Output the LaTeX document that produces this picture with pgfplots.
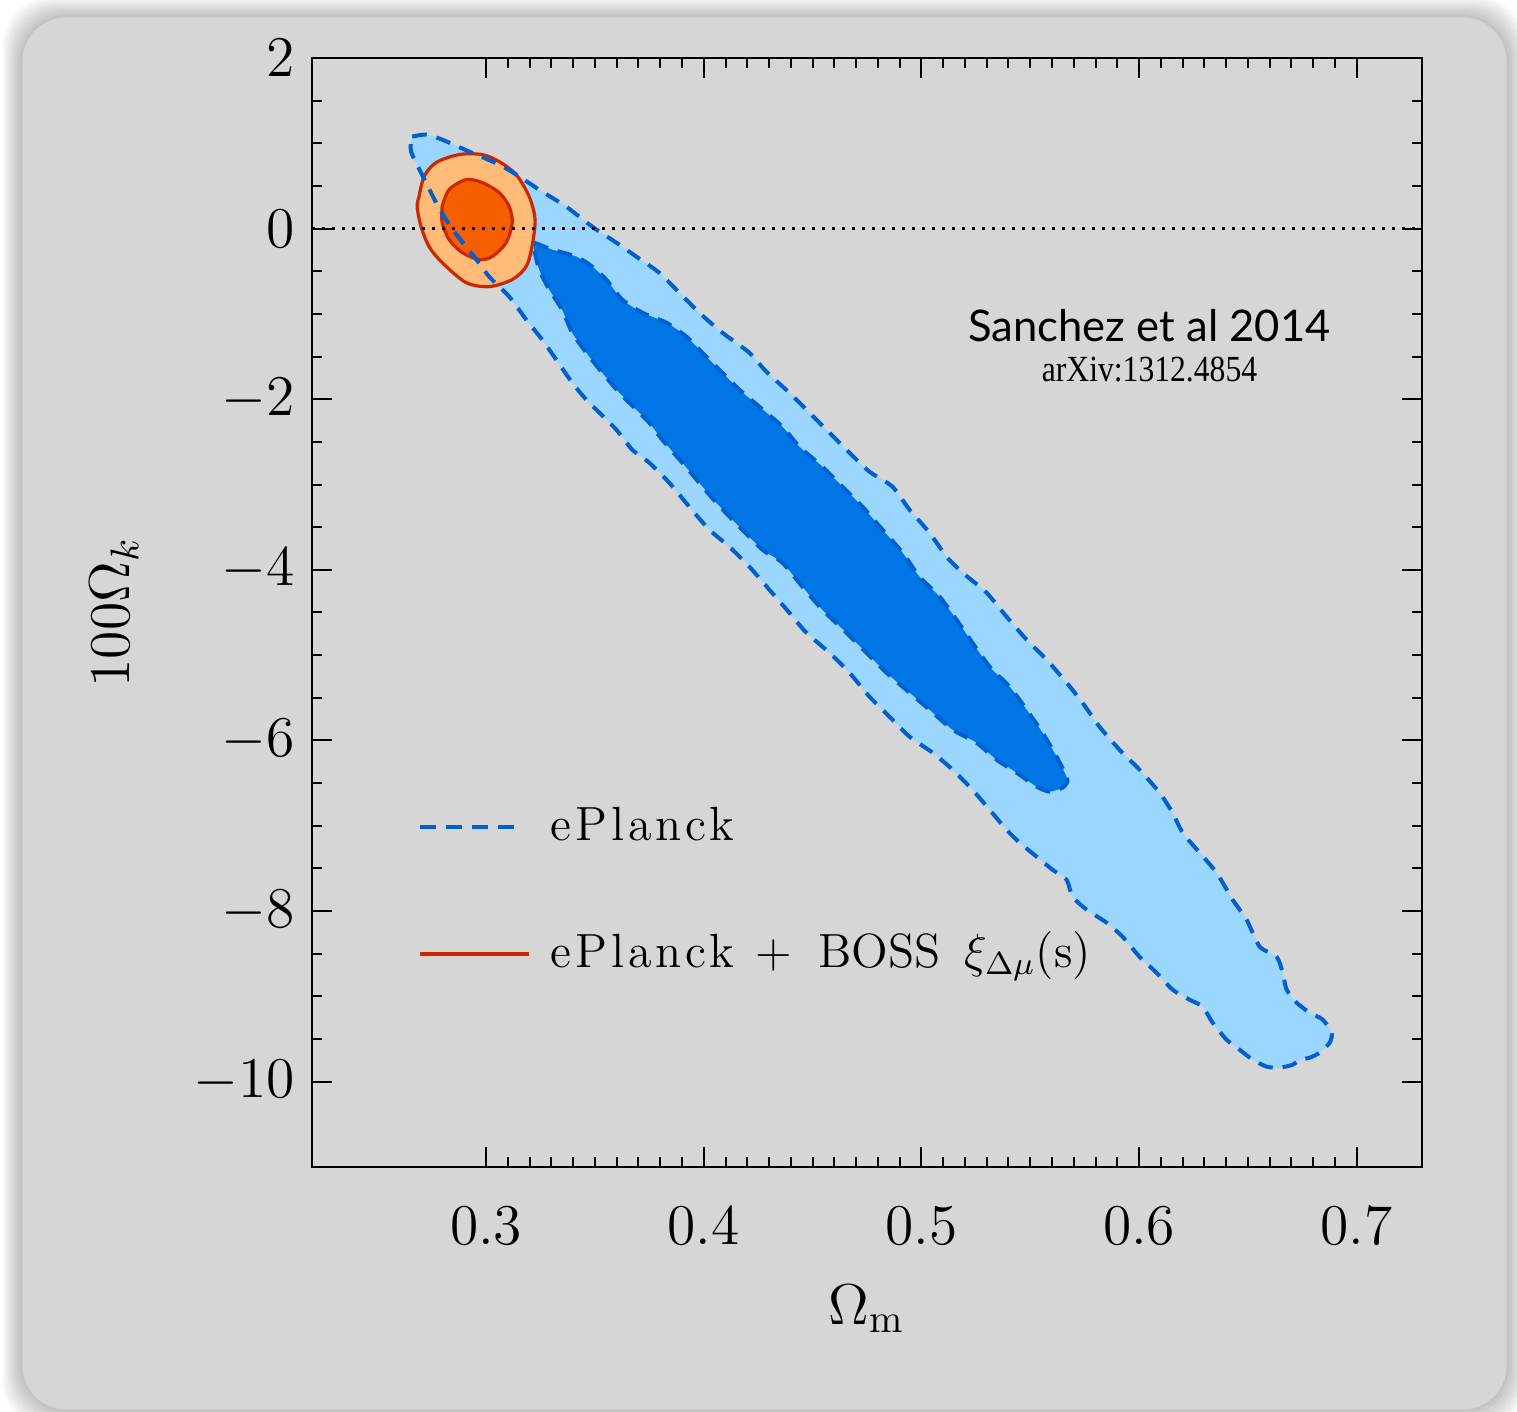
\documentclass[border=0pt]{standalone}
\usepackage{fontspec}
\usepackage{pgfplots}
\usepackage{pgfplotstable}
\pgfplotsset{compat=1.18}
\newfontfamily\lato{Lato}
\newfontfamily\arxivfont[FakeStretch=0.86]{Liberation Serif}
\newfontfamily\legfont[LetterSpace=8]{Latin Modern Roman}
\definecolor{bggray}{HTML}{D6D6D6}
\definecolor{lblue}{HTML}{9AD6FD}
\definecolor{dblue}{HTML}{0075E6}
\definecolor{dashblue}{HTML}{0060D0}
\definecolor{lorange}{HTML}{FFBB77}
\definecolor{dorange}{HTML}{F75E00}
\definecolor{redline}{HTML}{CC2800}

\pgfplotstableread{
x y
0.2660 1.079
0.2724 1.102
0.2798 1.043
0.2922 0.903
0.3060 0.750
0.3152 0.610
0.3257 0.434
0.3368 0.258
0.3487 0.023
0.3598 -0.164
0.3690 -0.328
0.3795 -0.516
0.3887 -0.750
0.3979 -0.985
0.4085 -1.219
0.4209 -1.454
0.4287 -1.676
0.4393 -1.923
0.4485 -2.157
0.4577 -2.391
0.4669 -2.626
0.4761 -2.849
0.4867 -3.025
0.4945 -3.294
0.5037 -3.564
0.5115 -3.845
0.5189 -4.033
0.5299 -4.267
0.5391 -4.549
0.5483 -4.818
0.5575 -5.053
0.5667 -5.322
0.5740 -5.557
0.5818 -5.838
0.5910 -6.108
0.6002 -6.342
0.6094 -6.612
0.6154 -6.846
0.6200 -7.081
0.6278 -7.315
0.6356 -7.550
0.6430 -7.866
0.6494 -8.101
0.6554 -8.417
0.6632 -8.535
0.6660 -8.722
0.6678 -8.921
0.6724 -9.074
0.6784 -9.191
0.6844 -9.273
0.6885 -9.426
0.6876 -9.543
0.6830 -9.660
0.6784 -9.719
0.6738 -9.742
0.6706 -9.801
0.6646 -9.836
0.6586 -9.824
0.6522 -9.742
0.6462 -9.625
0.6402 -9.508
0.6338 -9.308
0.6292 -9.121
0.6232 -9.039
0.6154 -8.921
0.6080 -8.722
0.6002 -8.535
0.5924 -8.300
0.5851 -8.136
0.5759 -7.983
0.5694 -7.831
0.5667 -7.632
0.5602 -7.515
0.5529 -7.362
0.5451 -7.198
0.5391 -7.046
0.5313 -6.811
0.5234 -6.577
0.5143 -6.342
0.5051 -6.143
0.4945 -5.955
0.4853 -5.721
0.4761 -5.486
0.4669 -5.205
0.4577 -4.971
0.4471 -4.736
0.4393 -4.502
0.4301 -4.232
0.4209 -3.962
0.4117 -3.728
0.4025 -3.529
0.3933 -3.259
0.3841 -2.978
0.3749 -2.743
0.3671 -2.591
0.3598 -2.356
0.3520 -2.157
0.3460 -2.005
0.3395 -1.805
0.3322 -1.536
0.3257 -1.301
0.3184 -1.067
0.3106 -0.797
0.3014 -0.563
0.2945 -0.328
0.2839 0.012
0.2770 0.305
0.2724 0.539
0.2655 0.903
0.2660 1.079
}\tabOuter

\pgfplotstableread{
x y
0.3221 -0.164
0.3303 -0.246
0.3414 -0.328
0.3487 -0.445
0.3552 -0.598
0.3625 -0.832
0.3717 -0.985
0.3828 -1.102
0.3920 -1.266
0.3993 -1.454
0.4071 -1.653
0.4163 -1.887
0.4255 -2.087
0.4361 -2.321
0.4439 -2.556
0.4545 -2.790
0.4637 -3.025
0.4729 -3.259
0.4821 -3.529
0.4913 -3.798
0.4991 -4.080
0.5083 -4.314
0.5161 -4.584
0.5234 -4.853
0.5313 -5.135
0.5405 -5.369
0.5483 -5.639
0.5556 -5.908
0.5621 -6.190
0.5671 -6.459
0.5648 -6.553
0.5589 -6.600
0.5529 -6.541
0.5437 -6.377
0.5345 -6.225
0.5253 -6.026
0.5143 -5.873
0.5037 -5.639
0.4945 -5.439
0.4839 -5.205
0.4747 -4.971
0.4655 -4.736
0.4545 -4.467
0.4453 -4.197
0.4361 -3.916
0.4269 -3.763
0.4163 -3.494
0.4057 -3.212
0.3979 -2.978
0.3901 -2.743
0.3809 -2.474
0.3749 -2.274
0.3690 -2.122
0.3612 -1.923
0.3533 -1.688
0.3460 -1.454
0.3395 -1.219
0.3349 -0.950
0.3290 -0.715
0.3244 -0.481
0.3221 -0.246
0.3221 -0.164
}\tabDark

\pgfplotstableread{
x y
0.2692 0.375
0.2715 0.610
0.2770 0.774
0.2876 0.868
0.2982 0.868
0.3060 0.785
0.3138 0.633
0.3198 0.375
0.3225 0.106
0.3211 -0.211
0.3184 -0.445
0.3120 -0.598
0.3014 -0.680
0.2908 -0.633
0.2798 -0.399
0.2738 -0.211
0.2701 0.023
0.2683 0.258
0.2692 0.375
}\tabOrOut

\pgfplotstableread{
x y
0.2798 0.258
0.2830 0.457
0.2908 0.574
0.2982 0.539
0.3060 0.422
0.3106 0.258
0.3120 0.070
0.3092 -0.164
0.3028 -0.328
0.2968 -0.363
0.2890 -0.281
0.2830 -0.129
0.2798 0.070
0.2798 0.258
}\tabOrIn

\begin{document}
\begin{tikzpicture}
\useasboundingbox (0,0) rectangle (379.25pt,352.75pt);
\fill[white] (0,0) rectangle (379.25pt,352.75pt);
\foreach \i in {1,...,8}{
  \fill[black,opacity=0.03,rounded corners=12pt]
    ({5.5pt-\i*0.6pt},{0.25pt-\i*0.6pt}) rectangle ({376.75pt+\i*0.6pt},{348.5pt+\i*0.6pt});
}
\fill[bggray,draw=black!22,line width=0.3pt,rounded corners=11pt] (5.5pt,0.25pt) rectangle (376.75pt,348.5pt);
\begin{axis}[
  at={(78pt,61pt)}, anchor=south west,
  scale only axis, width=277.5pt, height=277.25pt,
  xmin=0.22, xmax=0.73, ymin=-11, ymax=2,
  xtick={0.3,0.4,0.5,0.6,0.7},
  xticklabels={0.3,0.4,0.5,0.6,0.7},
  ytick={-10,-8,-6,-4,-2,0,2},
  minor x tick num=9, minor y tick num=3,
  tick align=inside,
  major tick length=5pt, minor tick length=2.6pt,
  every tick/.style={black,line width=0.5pt},
  axis line style={black,line width=0.7pt},
  tick label style={font=\fontsize{14.4}{17}\selectfont},
  xticklabel style={yshift=-6.2pt},
  yticklabel style={xshift=-0.8pt},
  xlabel={$\Omega_{\mathrm{m}}$},
  ylabel={$100\Omega_k$},
  label style={font=\fontsize{14.4}{17}\selectfont},
  xlabel style={at={(axis description cs:0.5,-0.128)},anchor=center},
  ylabel style={at={(axis description cs:-0.178,0.5)},anchor=center},
]
\addplot[fill=lblue,draw=none,smooth,tension=0.4] table {\tabOuter};
\addplot[fill=dblue,draw=none,smooth,tension=0.4] table {\tabDark};
\addplot[fill=lorange,draw=redline,line width=0.8pt,smooth,tension=0.5] table {\tabOrOut};
\addplot[fill=dorange,draw=redline,line width=0.8pt,smooth,tension=0.5] table {\tabOrIn};
\addplot[draw=dashblue,line width=1pt,dash pattern=on 3.7pt off 2.5pt,smooth,tension=0.4] table {\tabOuter};
\addplot[draw=dashblue,line width=1pt,dash pattern=on 3.7pt off 2.5pt,smooth,tension=0.4] table {\tabDark};
\addplot[black,line width=0.8pt,dash pattern=on 0.8pt off 1.7pt] coordinates {(0.22,0) (0.73,0)};
% legend samples
\addplot[draw=dashblue,line width=1pt,dash pattern=on 3.9pt off 2.6pt] coordinates {(0.2697,-7.011) (0.3161,-7.011)};
\addplot[draw=redline,line width=1pt] coordinates {(0.2697,-8.499) (0.3198,-8.499)};
\node[anchor=base west,inner sep=0pt,font=\fontsize{12}{14}\selectfont] at (axis cs:0.3294,-7.175) {{\legfont ePlanck}};
\node[anchor=base west,inner sep=0pt,font=\fontsize{12}{14}\selectfont] at (axis cs:0.3294,-8.664)
  {{\legfont ePlanck}\hspace{5.5pt}$+$\hspace{6.5pt}BOSS\hspace{6pt}$\xi_{\Delta\mu}$(s)};
\node[anchor=base,inner sep=0pt,font=\lato\fontsize{10.9}{13}\selectfont] at (axis cs:0.6048,-1.325) {Sanchez et al 2014};
\node[anchor=base,inner sep=0pt,font=\arxivfont\fontsize{9.2}{11}\selectfont] at (axis cs:0.6048,-1.794) {arXiv:1312.4854};
\end{axis}
\end{tikzpicture}
\end{document}
